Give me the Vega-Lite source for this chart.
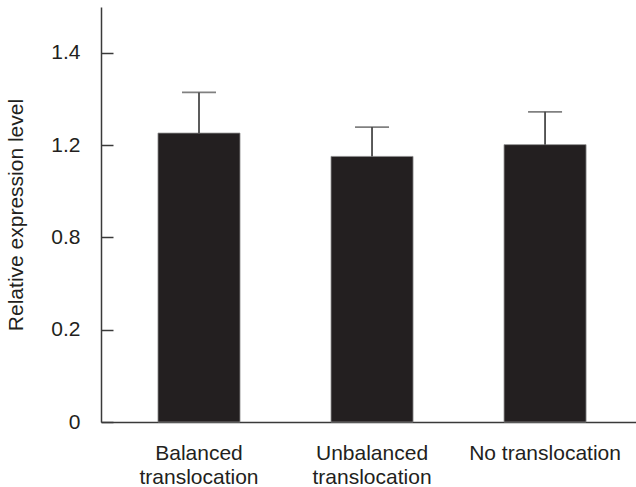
{
  "$schema": "https://vega.github.io/schema/vega-lite/v6.json",
  "autosize": {"type": "none"},
  "width": 535,
  "height": 415,
  "padding": {"left": 101, "top": 7, "right": 0, "bottom": 65},
  "background": "white",
  "config": {
    "view": {"stroke": null},
    "font": "Liberation Sans",
    "axis": {"grid": false, "labelFont": "Liberation Sans", "titleFont": "Liberation Sans", "labelColor": "#231f20", "titleColor": "#231f20", "domainColor": "#3a3a3a", "tickColor": "#3a3a3a", "domainWidth": 1.5, "tickWidth": 1.5}
  },
  "data": {
    "values": [
      {"group": "Balanced translocation", "value": 1.226, "upper": 1.314},
      {"group": "Unbalanced translocation", "value": 1.151, "upper": 1.239},
      {"group": "No translocation", "value": 1.201, "upper": 1.272}
    ]
  },
  "encoding": {
    "x": {
      "field": "group", "type": "nominal", "sort": null,
      "scale": {"paddingInner": 0.526, "paddingOuter": 0.309, "align": 0.533},
      "axis": {"title": null, "labelAngle": 0, "ticks": false, "labelFontSize": 21, "labelPadding": 20, "labelLineHeight": 24,
        "labelExpr": "datum.label == 'No translocation' ? datum.label : split(datum.label, ' ')"}
    }
  },
  "layer": [
    {
      "mark": {"type": "bar", "color": "#231f20", "stroke": "#8a8a8a", "strokeWidth": 0.8},
      "encoding": {
        "y": {
          "field": "value", "type": "quantitative",
          "scale": {"domain": [0, 0.2, 0.8, 1.2, 1.4, 1.5], "range": [415, 322.7, 230.4, 138.1, 45.7, 0], "clamp": false},
          "axis": {"title": "Relative expression level", "titleFontSize": 21, "titleFontWeight": "normal", "titlePadding": 24,
            "values": [0, 0.2, 0.8, 1.2, 1.4], "labelFontSize": 21, "tickSize": -12, "labelPadding": 33, "format": ".1~f"}
        }
      }
    },
    {
      "mark": {"type": "rule", "color": "#4a4a4a", "strokeWidth": 1.8},
      "encoding": {
        "y": {"field": "value", "type": "quantitative"},
        "y2": {"field": "upper"}
      }
    },
    {
      "mark": {"type": "tick", "color": "#4a4a4a", "thickness": 1.8, "size": 34},
      "encoding": {
        "y": {"field": "upper", "type": "quantitative"}
      }
    }
  ]
}
